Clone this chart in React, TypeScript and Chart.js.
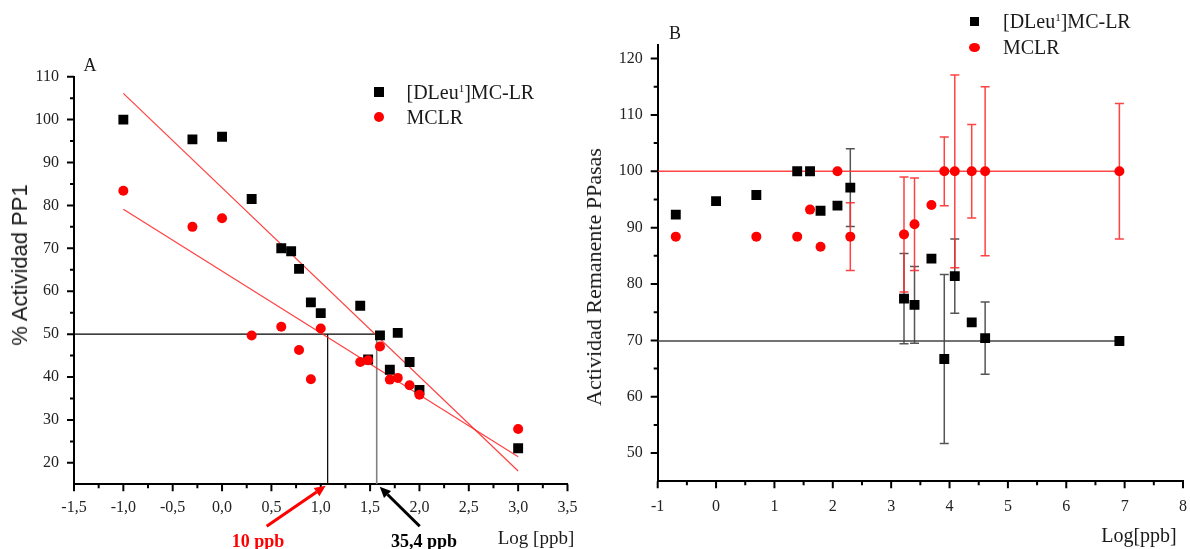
import React, { useEffect, useRef } from "react";
import { Chart, registerables } from "chart.js";
Chart.register(...registerables);

// ---------- Panel A (log10 ppb vs % actividad PP1) ----------
const logDleuA = [-1, -0.3, 0, 0.3, 0.6, 0.7, 0.78, 0.9, 1.0, 1.4, 1.48, 1.6, 1.7, 1.78, 1.9, 2.0, 3.0];
const dleuA = [100, 95.4, 96, 81.5, 70, 69.3, 65.2, 57.4, 54.9, 56.6, 44.1, 49.7, 41.7, 50.3, 43.5, 37.0, 23.4];
const logMclrA = [-1, -0.3, 0, 0.3, 0.6, 0.78, 0.9, 1.0, 1.4, 1.48, 1.6, 1.7, 1.78, 1.9, 2.0, 3.0];
const mclrA = [83.4, 75.0, 77.0, 49.7, 51.7, 46.3, 39.5, 51.3, 43.5, 43.9, 47.1, 39.4, 39.8, 38.1, 35.9, 27.9];
const fitX = [-1, 3];
const fitDleuY = [106.1, 18.1];
const fitMclrY = [79.1, 21.4];
const halfActivity = 50;
const ic50Mclr = 1.07; // 10 ppb
const ic50Dleu = 1.567; // 35,4 ppb
const xTicksA = [-1.5, -1, -0.5, 0, 0.5, 1, 1.5, 2, 2.5, 3, 3.5];
const xMinorA = [-1.25, -0.75, -0.25, 0.25, 0.75, 1.25, 1.75, 2.25, 2.75, 3.25];
const yTicksA = [20, 30, 40, 50, 60, 70, 80, 90, 100, 110];
const yMinorA = [25, 35, 45, 55, 65, 75, 85, 95, 105];

// ---------- Panel B (ln ppb vs actividad remanente) ----------
const lnDleuB = [-0.69, 0, 0.69, 1.39, 1.61, 1.79, 2.08, 2.3, 3.22, 3.4, 3.69, 3.91, 4.09, 4.38, 4.61, 6.91];
const dleuB = [92.3, 94.7, 95.8, 100, 100, 93.0, 93.9, 97.1, 77.4, 76.3, 84.5, 66.7, 81.4, 73.2, 70.4, 69.9];
const dleuBErr = [0, 0, 0, 0, 0, 0, 0, 6.9, 8, 6.8, 0, 15, 6.6, 0.4, 6.4, 0];
const lnMclrB = [-0.69, 0.69, 1.39, 1.61, 1.79, 2.08, 2.3, 3.22, 3.4, 3.69, 3.91, 4.09, 4.38, 4.61, 6.91];
const mclrB = [88.4, 88.4, 88.4, 93.2, 86.6, 100, 88.4, 88.8, 90.6, 94.0, 100, 100, 100, 100, 100];
const mclrBErr = [0, 0, 0, 0, 0, 0, 6, 10.2, 8.2, 0, 6.1, 17.1, 8.3, 15, 12];
const refLineX = [-1, 6.91];
const refMclrB = 100;
const refDleuB = 69.9;
const xTicksB = [-1, 0, 1, 2, 3, 4, 5, 6, 7, 8];
const xMinorB = [-0.5, 0.5, 1.5, 2.5, 3.5, 4.5, 5.5, 6.5, 7.5];
const yTicksB = [50, 60, 70, 80, 90, 100, 110, 120];
const yMinorB = [55, 65, 75, 85, 95, 105, 115];

const SERIF = '"Liberation Serif", "Times New Roman", serif';
const SANS = '"Liberation Sans", Arial, sans-serif';

const pts = (xs: number[], ys: number[]) => xs.map((x, i) => ({ x, y: ys[i] }));

function axisTicksPlugin(xMaj: number[], xMin: number[], yMaj: number[], yMin: number[]) {
  return {
    id: "axisTicks",
    afterDraw(chart: any) {
      const { ctx, chartArea: a, scales } = chart;
      const x = scales.x, y = scales.y;
      ctx.save();
      ctx.strokeStyle = "#000";
      ctx.lineWidth = 2;
      ctx.beginPath();
      xMaj.forEach((v) => { const p = x.getPixelForValue(v); ctx.moveTo(p, a.bottom); ctx.lineTo(p, a.bottom + 7); });
      xMin.forEach((v) => { const p = x.getPixelForValue(v); ctx.moveTo(p, a.bottom); ctx.lineTo(p, a.bottom + 4); });
      yMaj.forEach((v) => { const p = y.getPixelForValue(v); ctx.moveTo(a.left, p); ctx.lineTo(a.left - 7, p); });
      yMin.forEach((v) => { const p = y.getPixelForValue(v); ctx.moveTo(a.left, p); ctx.lineTo(a.left - 4, p); });
      ctx.stroke();
      ctx.restore();
    },
  };
}

function errorBarsPlugin(sets: { xs: number[]; ys: number[]; errs: number[]; color: string }[]) {
  return {
    id: "errorBars",
    beforeDatasetsDraw(chart: any) {
      const { ctx, scales } = chart;
      const x = scales.x, y = scales.y;
      ctx.save();
      ctx.lineWidth = 1.5;
      sets.forEach((s) => {
        ctx.strokeStyle = s.color;
        s.xs.forEach((xv, i) => {
          const e = s.errs[i];
          if (!e) return;
          const px = x.getPixelForValue(xv);
          const t = y.getPixelForValue(s.ys[i] + e);
          const b = y.getPixelForValue(s.ys[i] - e);
          ctx.beginPath();
          ctx.moveTo(px, t); ctx.lineTo(px, b);
          ctx.moveTo(px - 4.5, t); ctx.lineTo(px + 4.5, t);
          ctx.moveTo(px - 4.5, b); ctx.lineTo(px + 4.5, b);
          ctx.stroke();
        });
      });
      ctx.restore();
    },
  };
}

function drawArrow(ctx: CanvasRenderingContext2D, x0: number, y0: number, x1: number, y1: number, color: string, w: number) {
  const ang = Math.atan2(y1 - y0, x1 - x0);
  const hl = 11, hw = 5;
  const c = Math.cos(ang), s = Math.sin(ang);
  ctx.strokeStyle = color;
  ctx.lineWidth = w;
  ctx.beginPath();
  ctx.moveTo(x0, y0);
  ctx.lineTo(x1 - hl * c, y1 - hl * s);
  ctx.stroke();
  ctx.fillStyle = color;
  ctx.beginPath();
  ctx.moveTo(x1, y1);
  ctx.lineTo(x1 - hl * c + hw * s, y1 - hl * s - hw * c);
  ctx.lineTo(x1 - hl * c - hw * s, y1 - hl * s + hw * c);
  ctx.closePath();
  ctx.fill();
}

const arrowsPlugin = {
  id: "arrows",
  afterDraw(chart: any) {
    const { ctx, chartArea: a, scales } = chart;
    const pr = scales.x.getPixelForValue(ic50Mclr) - 2;
    const pb = scales.x.getPixelForValue(ic50Dleu) + 3;
    ctx.save();
    drawArrow(ctx, pr - 59, a.bottom + 42, pr, a.bottom + 1.5, "#ff0000", 3);
    drawArrow(ctx, pb + 40, a.bottom + 42, pb, a.bottom + 2.5, "#000", 3);
    ctx.restore();
  },
};

const tickFont = { family: SERIF, size: 16 };

function baseScales(o: any) {
  return {
    x: {
      type: "linear",
      min: o.xmin, max: o.xmax,
      afterBuildTicks: (s: any) => { s.ticks = o.xt.map((v: number) => ({ value: v })); },
      afterFit: (s: any) => { s.height = o.xh; s.paddingLeft = 0; s.paddingRight = 0; },
      ticks: { font: tickFont, color: "#222", padding: o.xpad, maxRotation: 0, autoSkip: false, callback: o.xcb },
      grid: { display: false, drawTicks: false },
      border: { display: true, color: "#000", width: 2 },
    },
    y: {
      type: "linear",
      min: o.ymin, max: o.ymax,
      afterBuildTicks: (s: any) => { s.ticks = o.yt.map((v: number) => ({ value: v })); },
      afterFit: (s: any) => { s.width = o.yw; s.paddingTop = 0; s.paddingBottom = 0; },
      ticks: { font: tickFont, color: "#222", padding: 15, autoSkip: false },
      grid: { display: false, drawTicks: false },
      border: { display: true, color: "#000", width: 2 },
    },
  };
}

export default function App() {
  const refA = useRef<HTMLCanvasElement>(null);
  const refB = useRef<HTMLCanvasElement>(null);

  useEffect(() => {
    const chartA = new Chart(refA.current as HTMLCanvasElement, {
      type: "scatter",
      data: {
        datasets: [
          { label: "MCLR", data: pts(logMclrA, mclrA), pointStyle: "circle", pointRadius: 5, backgroundColor: "#ff0000", borderWidth: 0, order: 0 } as any,
          { label: "[DLeu1]MC-LR", data: pts(logDleuA, dleuA), pointStyle: "rect", pointRadius: 7, backgroundColor: "#000", borderWidth: 0, order: 1 },
          { label: "fit DLeu", data: pts(fitX, fitDleuY), showLine: true, pointRadius: 0, borderColor: "rgba(255,30,30,0.85)", borderWidth: 1.2, order: 3 },
          { label: "fit MCLR", data: pts(fitX, fitMclrY), showLine: true, pointRadius: 0, borderColor: "rgba(255,30,30,0.85)", borderWidth: 1.2, order: 3 },
          { label: "50%", data: pts([-1.5, ic50Dleu], [halfActivity, halfActivity]), showLine: true, pointRadius: 0, borderColor: "#000", borderWidth: 1.2, order: 4 },
          { label: "IC50 MCLR", data: pts([ic50Mclr, ic50Mclr], [15, halfActivity]), showLine: true, pointRadius: 0, borderColor: "#000", borderWidth: 1.2, order: 4 },
          { label: "IC50 DLeu", data: pts([ic50Dleu, ic50Dleu], [15, halfActivity]), showLine: true, pointRadius: 0, borderColor: "#808080", borderWidth: 1.6, order: 4 },
        ],
      },
      options: {
        animation: false,
        responsive: false,
        events: [],
        layout: { padding: { left: 0, right: 22.5, top: 76.7, bottom: 0 } },
        plugins: { legend: { display: false }, tooltip: { enabled: false } },
        scales: baseScales({
          xmin: -1.5, xmax: 3.5, xt: xTicksA, xh: 64.7, xpad: 14,
          xcb: (v: any) => Number(v).toFixed(1).replace(".", ","),
          ymin: 15, ymax: 110, yt: yTicksA, yw: 74,
        }) as any,
      },
      plugins: [axisTicksPlugin(xTicksA, xMinorA, yTicksA, yMinorA), arrowsPlugin],
    });

    const chartB = new Chart(refB.current as HTMLCanvasElement, {
      type: "scatter",
      data: {
        datasets: [
          { label: "MCLR", data: pts(lnMclrB, mclrB), pointStyle: "circle", pointRadius: 5, backgroundColor: "#ff0000", borderWidth: 0, order: 0 } as any,
          { label: "[DLeu1]MC-LR", data: pts(lnDleuB, dleuB), pointStyle: "rect", pointRadius: 7, backgroundColor: "#000", borderWidth: 0, order: 1 },
          { label: "ref MCLR", data: pts(refLineX, [refMclrB, refMclrB]), showLine: true, pointRadius: 0, borderColor: "rgba(255,50,50,0.9)", borderWidth: 1.6, order: 3 },
          { label: "ref DLeu", data: pts(refLineX, [refDleuB, refDleuB]), showLine: true, pointRadius: 0, borderColor: "#444", borderWidth: 1.6, order: 3 },
        ],
      },
      options: {
        animation: false,
        responsive: false,
        events: [],
        layout: { padding: { left: 0, right: 3, top: 45, bottom: 0 } },
        plugins: { legend: { display: false }, tooltip: { enabled: false } },
        scales: baseScales({
          xmin: -1, xmax: 8, xt: xTicksB, xh: 67.7, xpad: 15.5,
          xcb: (v: any) => String(v),
          ymin: 45, ymax: 122.4, yt: yTicksB, yw: 67.7,
        }) as any,
      },
      plugins: [
        axisTicksPlugin(xTicksB, xMinorB, yTicksB, yMinorB),
        errorBarsPlugin([
          { xs: lnDleuB, ys: dleuB, errs: dleuBErr, color: "#555" },
          { xs: lnMclrB, ys: mclrB, errs: mclrBErr, color: "rgba(255,45,45,0.9)" },
        ]),
      ],
    });

    return () => { chartA.destroy(); chartB.destroy(); };
  }, []);

  const txt = (left: number, cy: number, size: number, extra: any = {}) => ({
    position: "absolute" as const, left, top: cy - 14, height: 28, lineHeight: "28px",
    fontFamily: SERIF, fontSize: size, color: "#1a1a1a", whiteSpace: "nowrap" as const, ...extra,
  });
  const centered = (cx: number, cy: number, size: number, extra: any = {}) => ({
    position: "absolute" as const, left: cx, top: cy, transform: "translate(-50%, -50%)",
    fontFamily: SERIF, fontSize: size, color: "#1a1a1a", whiteSpace: "nowrap" as const, lineHeight: 1, ...extra,
  });
  const marker = (cx: number, cy: number, w: number, h: number, color: string, round: boolean) => ({
    position: "absolute" as const, left: cx - w / 2, top: cy - h / 2, width: w, height: h,
    background: color, borderRadius: round ? "50%" : 0,
  });

  return (
    <div style={{ position: "absolute", left: 0, top: 0, width: 1190, height: 549, background: "#fff", overflow: "hidden" }}>
      <canvas ref={refA} width={590} height={549} style={{ position: "absolute", left: 0, top: 0, display: "block" }} />
      <canvas ref={refB} width={600} height={549} style={{ position: "absolute", left: 590, top: 0, display: "block" }} />

      {/* Panel A texts */}
      <div style={centered(90, 65, 18)}>A</div>
      <div style={centered(20, 265, 22, { fontFamily: SANS, transform: "translate(-50%, -50%) rotate(-90deg)" })}>% Actividad PP1</div>
      <div style={marker(379, 92.3, 10, 10, "#000", false)} />
      <div style={txt(406.5, 92, 20)}>[DLeu<sup style={{ fontSize: 11, verticalAlign: "top", lineHeight: "20px" }}>1</sup>]MC-LR</div>
      <div style={marker(379, 117, 10, 10, "#ff0000", true)} />
      <div style={txt(406.5, 117, 20)}>MCLR</div>
      <div style={centered(536, 537, 19)}>Log [ppb]</div>
      <div style={centered(258, 541, 18, { color: "#ff0000", fontWeight: "bold" })}>10 ppb</div>
      <div style={centered(424, 541, 18, { color: "#000", fontWeight: "bold" })}>35,4 ppb</div>

      {/* Panel B texts */}
      <div style={centered(675, 33, 18)}>B</div>
      <div style={centered(594, 277, 22, { transform: "translate(-50%, -50%) rotate(-90deg)" })}>Actividad Remanente PPasas</div>
      <div style={marker(974, 21, 9, 9, "#000", false)} />
      <div style={txt(1003, 21, 20)}>[DLeu<sup style={{ fontSize: 11, verticalAlign: "top", lineHeight: "20px" }}>1</sup>]MC-LR</div>
      <div style={marker(974, 47, 11, 9, "#ff0000", true)} />
      <div style={txt(1003, 47, 20)}>MCLR</div>
      <div style={centered(1139, 535, 20)}>Log[ppb]</div>
    </div>
  );
}
